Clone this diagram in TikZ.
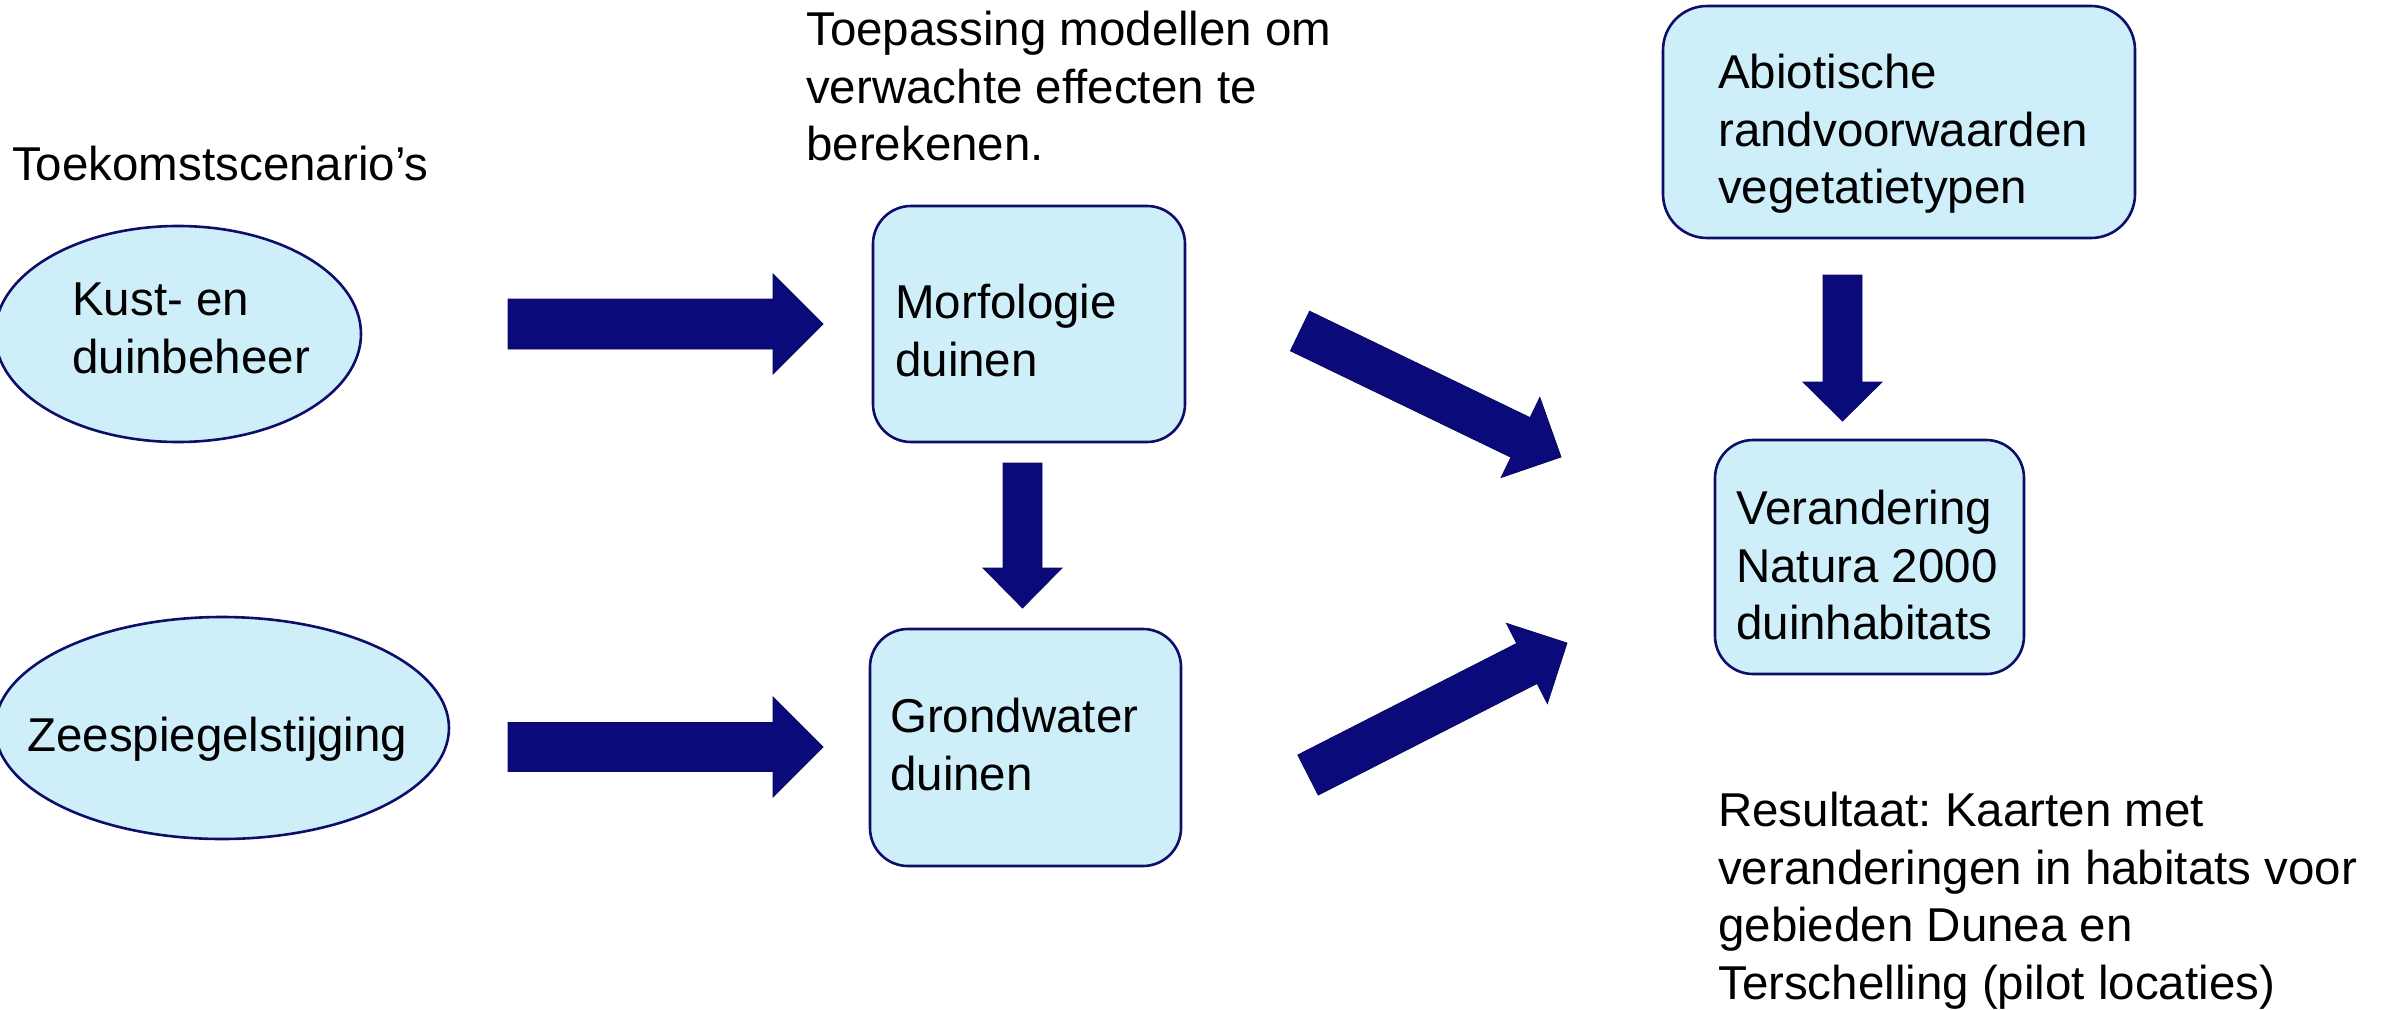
\documentclass[tikz,border=0pt]{standalone}
\usepackage{fontspec}
\setmainfont{Liberation Sans}
\usetikzlibrary{shapes.geometric,calc}
\frenchspacing
\definecolor{fillc}{RGB}{206,239,250}
\definecolor{linec}{RGB}{14,14,104}
\definecolor{arrowc}{RGB}{10,10,122}
\tikzset{
  shapebox/.style={draw=linec, fill=fillc, line width=2.6pt, rounded corners=38pt, inner sep=0pt},
  ellbox/.style={draw=linec, fill=fillc, line width=2.6pt, ellipse, inner sep=0pt},
  txt/.style={inner sep=0pt, align=left, font=\fontsize{47.5}{57.5}\selectfont},
  blockfill/.style={fill=arrowc, draw=arrowc!80!black, line width=0.8pt, line join=miter},
}
% #1 tail, #2 tip, #3 half shaft, #4 half head, #5 head length
\newcommand\blockarrow[5]{%
  \coordinate (#1h) at ($(#2)!#5!(#1)$);
  \path[blockfill] ($(#1)!#3!90:(#2)$) -- ($(#1h)!#3!-90:(#1)$) -- ($(#1h)!#4!-90:(#1)$)
     -- (#2) -- ($(#1h)!#4!90:(#1)$) -- ($(#1h)!#3!90:(#1)$) -- ($(#1)!#3!-90:(#2)$) -- cycle;
}
\begin{document}
\begin{tikzpicture}[x=1pt,y=-1pt]
\useasboundingbox (0,0) rectangle (2390,1009);
% shapes
\node[ellbox, minimum width=366pt, minimum height=216pt] (kust) at (178,334) {};
\node[ellbox, minimum width=454pt, minimum height=222pt] (zee) at (222,728) {};
\node[shapebox, minimum width=312pt, minimum height=236pt] (morf) at (1029,324) {};
\node[shapebox, minimum width=311pt, minimum height=237pt] (grond) at (1025.5,747.5) {};
\node[shapebox, minimum width=472pt, minimum height=232pt, rounded corners=44pt] (abio) at (1899,122) {};
\node[shapebox, minimum width=309pt, minimum height=234pt] (nat) at (1869.5,557) {};
% arrow end points
\coordinate (a1t) at (508,324);   \coordinate (a1h) at (823,324);
\coordinate (a2t) at (508,747);   \coordinate (a2h) at (823,747);
\coordinate (a3t) at (1022.5,463); \coordinate (a3h) at (1022.5,608);
\coordinate (a4t) at (1842.5,275); \coordinate (a4h) at (1842.5,421);
\coordinate (a5t) at (1300,331);  \coordinate (a5h) at (1561,457);
\coordinate (a6t) at (1308,775);  \coordinate (a6h) at (1567,643);
\blockarrow{a1t}{a1h}{25pt}{50pt}{50pt}
\blockarrow{a2t}{a2h}{24.5pt}{50pt}{50pt}
\blockarrow{a3t}{a3h}{19.5pt}{39.5pt}{40pt}
\blockarrow{a4t}{a4h}{19.5pt}{39.5pt}{39pt}
\blockarrow{a5t}{a5h}{22pt}{44.5pt}{45pt}
\blockarrow{a6t}{a6h}{22.5pt}{45pt}{45pt}
% texts
\node[txt, anchor=base west] (tscen) at (12,180) {Toekomstscenario’s};
\node[txt, anchor=north west] (ttoep) at (806,11) {Toepassing modellen om\\verwachte effecten te\\berekenen.};
\node[txt, anchor=north west] (tkust) at (72,283) {Kust- en\\duinbeheer};
\node[txt, anchor=base west] (tzee) at (27,751) {Zeespiegelstijging};
\node[txt, anchor=north west] (tmorf) at (895,284) {Morfologie\\duinen};
\node[txt, anchor=north west] (tgrond) at (890,698) {Grondwater\\duinen};
\node[txt, anchor=north west] (tabio) at (1718,54) {Abiotische\\randvoorwaarden\\vegetatietypen};
\node[txt, anchor=north west] (tnat) at (1736,490) {Verandering\\Natura 2000\\duinhabitats};
\node[txt, anchor=north west] (tres) at (1718,792) {Resultaat: Kaarten met\\veranderingen in habitats voor\\gebieden Dunea en\\Terschelling (pilot locaties)};
\end{tikzpicture}
\end{document}
